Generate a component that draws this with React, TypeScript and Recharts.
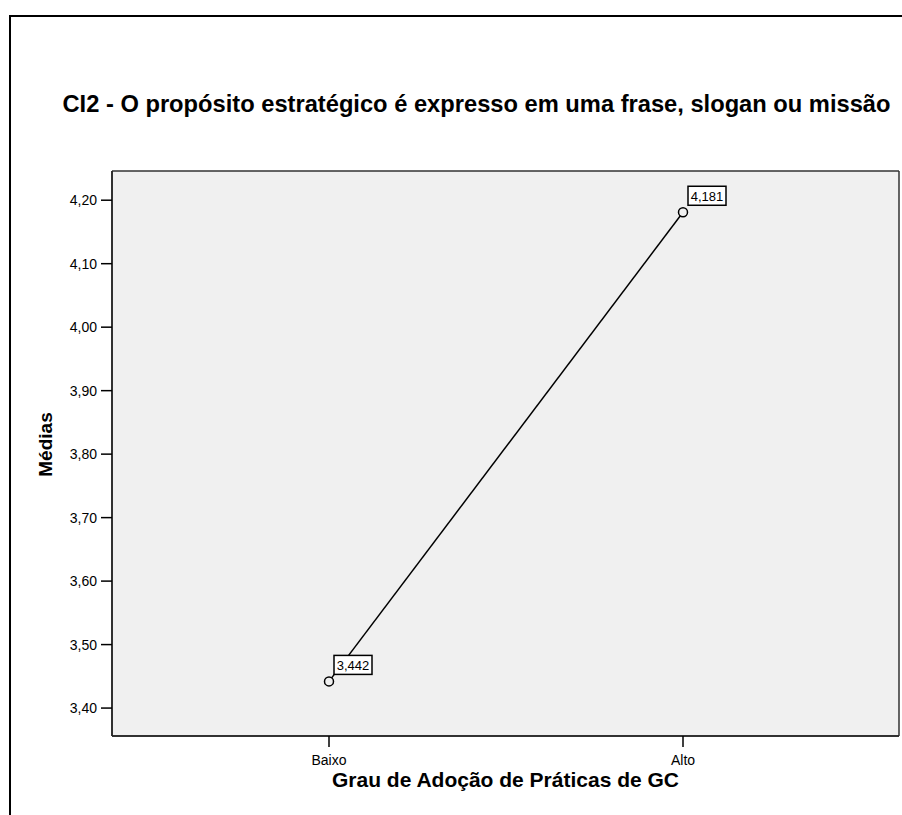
import {
  LineChart,
  Line,
  XAxis,
  YAxis,
  CartesianGrid,
} from 'recharts';

// data
const groups = ['Baixo', 'Alto'];
const means = [3.442, 4.181];
const yTicks = [3.4, 3.5, 3.6, 3.7, 3.8, 3.9, 4.0, 4.1, 4.2];

const data = groups.map((g, i) => ({ grupo: g, media: means[i] }));

const FONT = '"Liberation Sans", Arial, sans-serif';
const comma = (v: number, d: number) => v.toFixed(d).replace('.', ',');

function ValueLabel(props: any) {
  const { x, y, value } = props;
  if (x == null || y == null) return null;
  const bx = x + 5;
  const by = y - 26;
  return (
    <g>
      <rect x={bx} y={by} width={38} height={19} fill="#fff" stroke="#000" strokeWidth={1.5} />
      <text
        x={bx + 19}
        y={by + 10}
        textAnchor="middle"
        dominantBaseline="central"
        fontSize={13}
        fontFamily={FONT}
        fill="#000"
      >
        {comma(value, 3)}
      </text>
    </g>
  );
}

function YTitle(props: any) {
  const vb = props.viewBox || {};
  const cx = vb.x + 45;
  const cy = vb.y + vb.height / 2 - 9;
  return (
    <text
      x={cx}
      y={cy}
      transform={`rotate(-90, ${cx}, ${cy})`}
      textAnchor="middle"
      dominantBaseline="central"
      fontSize={19}
      fontWeight="bold"
      fontFamily={FONT}
      fill="#000"
    >
      Médias
    </text>
  );
}

// frame lines of the plot box come from the chart's own offset
const hEdges = ({ offset }: any) => [offset.top, offset.top + offset.height];
const vEdges = ({ offset }: any) => [offset.left, offset.left + offset.width];

export default function App() {
  return (
    <div
      style={{
        position: 'absolute',
        left: 0,
        top: 0,
        width: 902,
        height: 815,
        overflow: 'hidden',
        background: '#fff',
        fontFamily: FONT,
      }}
    >
      <div
        style={{
          position: 'absolute',
          left: 9,
          top: 15,
          width: 1000,
          height: 1000,
          borderLeft: '2px solid #000',
          borderTop: '2px solid #000',
        }}
      />
      <div
        style={{
          position: 'absolute',
          left: 0,
          top: 93,
          width: 953,
          textAlign: 'center',
          fontSize: 23.7,
          lineHeight: '23px',
          fontWeight: 'bold',
          color: '#000',
          whiteSpace: 'nowrap',
        }}
      >
        CI2 - O propósito estratégico é expresso em uma frase, slogan ou missão
      </div>
      <div style={{ position: 'absolute', left: 0, top: 0 }}>
        <LineChart
          width={902}
          height={815}
          data={data}
          margin={{ top: 171, right: 3, bottom: 0, left: 0 }}
        >
          <CartesianGrid
            fill="#f0f0f0"
            stroke="#333"
            strokeWidth={1.5}
            horizontalCoordinatesGenerator={hEdges}
            verticalCoordinatesGenerator={vEdges}
          />
          <XAxis
            dataKey="grupo"
            height={79}
            padding={{ left: 217, right: 216 }}
            tickSize={11}
            tickMargin={8}
            axisLine={{ stroke: '#222', strokeWidth: 1.5 }}
            tickLine={{ stroke: '#000', strokeWidth: 1.5 }}
            tick={{ fontSize: 14, fill: '#000', fontFamily: FONT }}
            label={{
              value: 'Grau de Adoção de Práticas de GC',
              position: 'insideBottom',
              offset: 28,
              fontSize: 21,
              fontWeight: 'bold',
              fill: '#000',
              fontFamily: FONT,
            }}
          />
          <YAxis
            width={112}
            domain={[3.356, 4.246]}
            allowDataOverflow
            ticks={yTicks}
            interval={0}
            tickFormatter={(v: number) => comma(v, 2)}
            tickSize={11}
            tickMargin={4}
            axisLine={{ stroke: '#222', strokeWidth: 1.5 }}
            tickLine={{ stroke: '#000', strokeWidth: 1.5 }}
            tick={{ fontSize: 14, fill: '#000', fontFamily: FONT }}
            label={{ content: YTitle }}
          />
          <Line
            type="linear"
            dataKey="media"
            stroke="#000"
            strokeWidth={1.5}
            dot={{ r: 4.5, stroke: '#000', strokeWidth: 1.5, fill: '#f0f0f0' }}
            activeDot={false}
            label={ValueLabel}
            isAnimationActive={false}
          />
        </LineChart>
      </div>
    </div>
  );
}
